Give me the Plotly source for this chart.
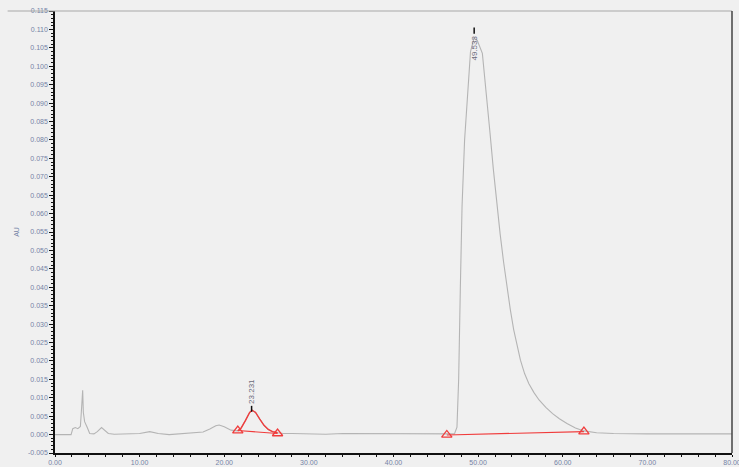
import plotly.graph_objects as go

# ---- data ----
time_min = [0.0, 1.0, 1.9, 2.1, 2.4, 2.7, 3.0, 3.15, 3.27, 3.35, 3.5, 3.8, 4.1, 4.6, 5.0, 5.5, 5.9, 6.3,
            7.0, 8.0, 9.0, 10.0, 11.2, 12.2, 13.5, 15.0, 16.5, 17.5, 18.3, 19.0, 19.4, 20.0, 20.8,
            21.6, 22.0, 22.5, 23.0, 23.3, 23.7, 24.2, 24.7, 25.2, 25.7, 26.3,
            27.0, 28.0, 30.0, 32.0, 34.0, 36.0, 38.0, 40.0, 42.0, 44.0, 46.0, 47.2,
            47.5, 47.7, 47.9, 48.1, 48.4, 48.8, 49.1, 49.5, 49.9, 50.5, 51.0, 51.4, 51.8, 52.2, 52.6, 53.0,
            53.4, 53.8, 54.2, 54.6, 55.0, 55.5, 56.0, 56.6, 57.2, 58.0, 58.8, 59.6, 60.5, 61.5, 62.5,
            64.0, 66.0, 70.0, 75.0, 80.0]
absorb_au = [0.0000, 0.0000, 0.0000, 0.0016, 0.0019, 0.0016, 0.0022, 0.0075, 0.0120, 0.0060, 0.0035, 0.0020,
             0.0003, 0.0002, 0.0008, 0.0019, 0.0012, 0.0003,
             0.0001, 0.0001, 0.0002, 0.0003, 0.0008, 0.0003, 0.0000, 0.0002, 0.0004, 0.0007, 0.0015, 0.0024,
             0.0026, 0.0021, 0.0012,
             0.0010, 0.0018, 0.0038, 0.0060, 0.0066, 0.0060, 0.0042, 0.0025, 0.0014, 0.0008, 0.0005,
             0.0003, 0.0003, 0.0002, 0.0001, 0.0003, 0.0003, 0.0002, 0.0001, 0.0001, 0.0001, 0.0001, 0.0002,
             0.0020, 0.0150, 0.0400, 0.0620, 0.0800, 0.0950, 0.1040, 0.1075, 0.1070, 0.1035, 0.0925, 0.0820,
             0.0720, 0.0630, 0.0545, 0.0470,
             0.0400, 0.0340, 0.0285, 0.0240, 0.0202, 0.0165, 0.0138, 0.0114, 0.0094, 0.0074, 0.0057, 0.0043,
             0.0030, 0.0018, 0.0010,
             0.0005, 0.0003, 0.0002, 0.0002, 0.0002]

peak_rt = [23.231, 49.533]
peak_labels = ["23.231", "49.533"]
integrated_window = [21.6, 26.3]          # peak drawn in red
baseline_t = [[21.6, 26.3], [46.3, 62.5]]
baseline_au = [[0.0011, 0.0003], [-0.0001, 0.0008]]

x_tick_vals = [0, 10, 20, 30, 40, 50, 60, 70, 80]
x_tick_text = ["0.00", "10.00", "20.00", "30.00", "40.00", "50.00", "60.00", "70.00", "80.00"]
y_tick_vals = [round(-0.005 + 0.005 * i, 3) for i in range(25)]
y_tick_text = [f"{v:.3f}" for v in y_tick_vals]

BG = "#f0f0f0"
TRACE = "#b4b4b4"
RED = "#f03c3c"
TICKFONT = dict(family="Liberation Sans, Arial, sans-serif", size=7, color="#7483a6")

fig = go.Figure()

fig.add_trace(go.Scatter(x=time_min, y=absorb_au, mode="lines",
                         line=dict(color=TRACE, width=1.1), hoverinfo="skip", showlegend=False))

red_t = [t for t in time_min if integrated_window[0] <= t <= integrated_window[1]]
red_a = [a for t, a in zip(time_min, absorb_au) if integrated_window[0] <= t <= integrated_window[1]]
fig.add_trace(go.Scatter(x=red_t, y=red_a, mode="lines",
                         line=dict(color=RED, width=1.4), showlegend=False))

for bt, ba in zip(baseline_t, baseline_au):
    fig.add_trace(go.Scatter(x=bt, y=ba, mode="lines+markers",
                             line=dict(color=RED, width=1.1),
                             marker=dict(symbol="triangle-up-open", size=9, color=RED,
                                         line=dict(width=1.3, color=RED)),
                             showlegend=False))

# peak labels
apex = []
for rt in peak_rt:
    i = min(range(len(time_min)), key=lambda k: abs(time_min[k] - rt))
    apex.append(absorb_au[i])

# small peak: tick below the text
fig.add_shape(type="line", x0=peak_rt[0], x1=peak_rt[0], y0=apex[0] - 0.0004, y1=apex[0] + 0.0012,
              line=dict(color="#111", width=1.5))
fig.add_annotation(x=peak_rt[0], y=apex[0] + 0.0012, text=peak_labels[0], textangle=-90,
                   showarrow=False, yanchor="bottom", xanchor="center",
                   font=dict(family="Liberation Sans, Arial, sans-serif", size=8, color="#6a6a7a"))
# big peak: tick above the text
fig.add_shape(type="line", x0=peak_rt[1], x1=peak_rt[1], y0=0.1088, y1=0.1105,
              line=dict(color="#111", width=1.5))
fig.add_annotation(x=peak_rt[1], y=0.1088, text=peak_labels[1], textangle=-90,
                   showarrow=False, yanchor="top", xanchor="center",
                   font=dict(family="Liberation Sans, Arial, sans-serif", size=8, color="#6a6a7a"))

# frame: top (gray) and right (dark)
fig.add_shape(type="line", xref="paper", yref="paper", x0=-0.07, x1=1, y0=1, y1=1,
              line=dict(color="#a8a8a8", width=1))
fig.add_shape(type="line", xref="paper", yref="paper", x0=1, x1=1, y0=0, y1=1,
              line=dict(color="#444", width=1.5))

# axis titles
fig.add_annotation(xref="paper", yref="paper", x=-0.066, y=0.5, text="AU", textangle=-90,
                   showarrow=False, font=dict(family="Liberation Sans, Arial, sans-serif", size=7,
                                              color="#7483a6"))
fig.add_annotation(xref="paper", yref="paper", x=0.5, y=-0.034, yanchor="top", text="Minutes",
                   showarrow=False, font=dict(family="Liberation Sans, Arial, sans-serif", size=7,
                                              color="#7483a6"))

fig.update_xaxes(range=[0, 80], tickvals=x_tick_vals, ticktext=x_tick_text, ticks="outside",
                 ticklen=2, tickwidth=1.2, tickcolor="#111", showline=True, linecolor="#111",
                 linewidth=1.5, showgrid=False, zeroline=False, tickfont=TICKFONT,
                 ticklabeloverflow="allow", automargin=False,
                 minor=dict(dtick=2, ticks="outside", ticklen=2, tickcolor="#111", tickwidth=1.2,
                            showgrid=False))
fig.update_yaxes(range=[-0.005, 0.115], tickvals=y_tick_vals, ticktext=y_tick_text, ticks="outside",
                 ticklen=4, tickwidth=1, tickcolor="#111", showline=True, linecolor="#111",
                 linewidth=1.5, showgrid=False, zeroline=False, tickfont=TICKFONT,
                 ticklabeloverflow="allow", automargin=False,
                 minor=dict(dtick=0.001, ticks="outside", ticklen=2, tickcolor="#111", showgrid=False))

fig.update_layout(width=739, height=467, autosize=False,
                  margin=dict(l=55, r=7, t=11, b=14, autoexpand=False),
                  paper_bgcolor=BG, plot_bgcolor=BG, showlegend=False)

fig.write_html("out.html")
